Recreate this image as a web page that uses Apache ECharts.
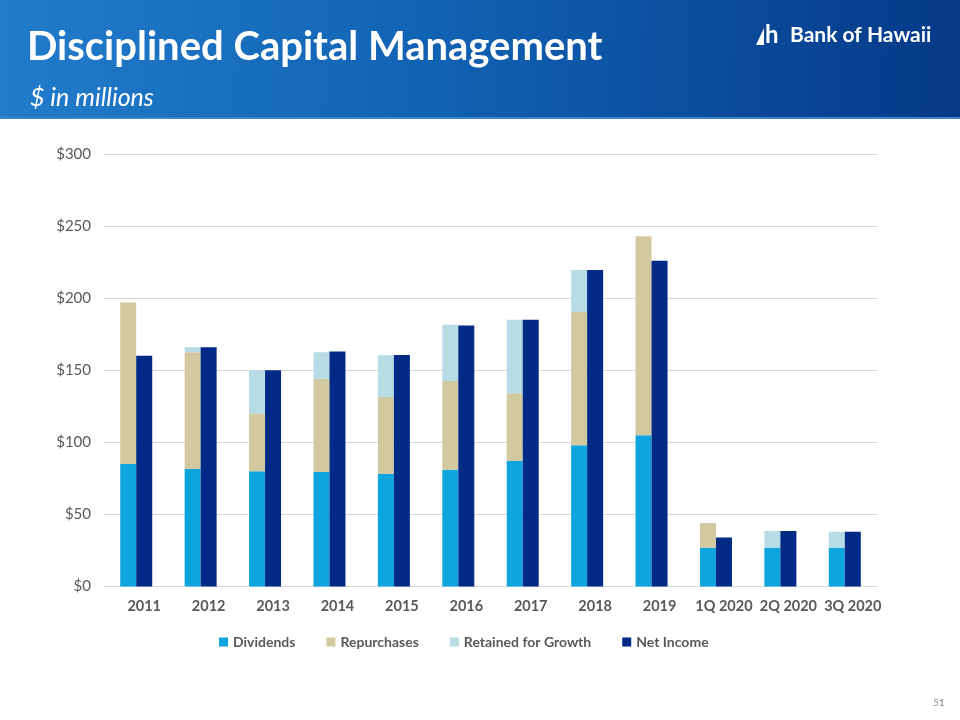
<!DOCTYPE html>
<html>
<head>
<meta charset="utf-8">
<script src="https://cdn.jsdelivr.net/npm/echarts@6/dist/echarts.min.js"></script>
<style>
html,body{margin:0;padding:0;background:#fff;}
#chart{width:960px;height:720px;}
</style>
</head>
<body>
<div id="chart"></div>
<script>
const categories = ['2011','2012','2013','2014','2015','2016','2017','2018','2019','1Q 2020','2Q 2020','3Q 2020'];
const dividends = [85, 81.5, 80, 79.5, 78, 81, 87, 98, 105, 27, 27, 27];
const repurchases = [112, 81, 40, 64.5, 53.5, 61.5, 47, 92.5, 138, 17, 0, 0];
const retained = [0, 3.5, 30, 18.5, 29, 39, 51, 29, 0, 0, 11.5, 11];
const netIncome = [160, 166, 150, 163, 160.5, 181, 185, 219.5, 226, 34, 38.5, 38];
const yTicks = [0, 50, 100, 150, 200, 250, 300];

const chart = echarts.init(document.getElementById('chart'), null, {renderer:'canvas'});
const labelFont = 'Lato, "Open Sans", sans-serif';

const option = {
  animation: false,
  backgroundColor: '#ffffff',
  grid: {left: 104, right: 83, top: 154, bottom: 133.5},
  xAxis: {
    type: 'category',
    data: categories,
    axisLine: {show: true, lineStyle: {color: '#d9d9d9', width: 1}},
    axisTick: {show: false},
    axisLabel: {color: '#595959', fontFamily: labelFont, fontWeight: 'bold', fontSize: 14.5, margin: 12, padding: [0,0,0,16], interval: 0}
  },
  yAxis: {
    type: 'value',
    min: yTicks[0], max: yTicks[yTicks.length-1], interval: 50,
    axisLine: {show: false},
    axisTick: {show: false},
    splitLine: {lineStyle: {color: '#d9d9d9', width: 1}},
    axisLabel: {color: '#595959', fontFamily: labelFont, fontSize: 15, margin: 13, formatter: v => '$' + v}
  },
  legend: {
    left: 214, top: 630,
    itemWidth: 9, itemHeight: 9, itemGap: 31,
    icon: 'rect',
    textStyle: {color: '#595959', fontFamily: labelFont, fontWeight: 'bold', fontSize: 14},
    data: ['Dividends','Repurchases','Retained for Growth','Net Income']
  },
  series: [
    {name: 'Dividends', type: 'bar', stack: 'use', data: dividends, barWidth: 16, barGap: '0%', itemStyle: {color: '#0ea5de'}},
    {name: 'Repurchases', type: 'bar', stack: 'use', data: repurchases, barWidth: 16, barGap: '0%', itemStyle: {color: '#d3c9a1'}},
    {name: 'Retained for Growth', type: 'bar', stack: 'use', data: retained, barWidth: 16, barGap: '0%', itemStyle: {color: '#b7dce5'}},
    {name: 'Net Income', type: 'bar', data: netIncome, barWidth: 16, barGap: '0%', itemStyle: {color: '#002a86'}}
  ],
  graphic: [
    {type: 'rect', left: 0, top: 0, z: -1, shape: {width: 960, height: 119},
     style: {fill: new echarts.graphic.LinearGradient(0, 0, 1, 0.3, [
       {offset: 0, color: '#227ccb'}, {offset: 0.45, color: '#1262b3'}, {offset: 1, color: '#053a88'}])}},
    {type: 'rect', left: 0, top: 117, z: -1, shape: {width: 960, height: 2}, style: {fill: '#3f84c8'}},
    {type: 'text', left: 27, top: 27, style: {text: 'Disciplined Capital Management', fill: '#ffffff', font: 'bold 40px Lato, "Open Sans", sans-serif'}},
    {type: 'text', left: 30, top: 85, style: {text: '$ in millions', fill: '#ffffff', font: 'italic 25px Lato, "Open Sans", sans-serif'}},
    {type: 'polygon', shape: {points: [[756,45],[764,28],[764,45]]}, style: {fill: '#ffffff'}},
    {type: 'text', left: 765, top: 23, style: {text: 'h', fill: '#ffffff', font: 'bold 24px Lato, sans-serif'}},
    {type: 'text', left: 790, top: 25, style: {text: 'Bank of Hawaii', fill: '#ffffff', font: 'bold 21px Lato, "Open Sans", sans-serif'}},
    {type: 'text', left: 933, top: 698, style: {text: '51', fill: '#8c8c8c', font: '10px Lato, sans-serif'}}
  ]
};
chart.setOption(option);
</script>
</body>
</html>
